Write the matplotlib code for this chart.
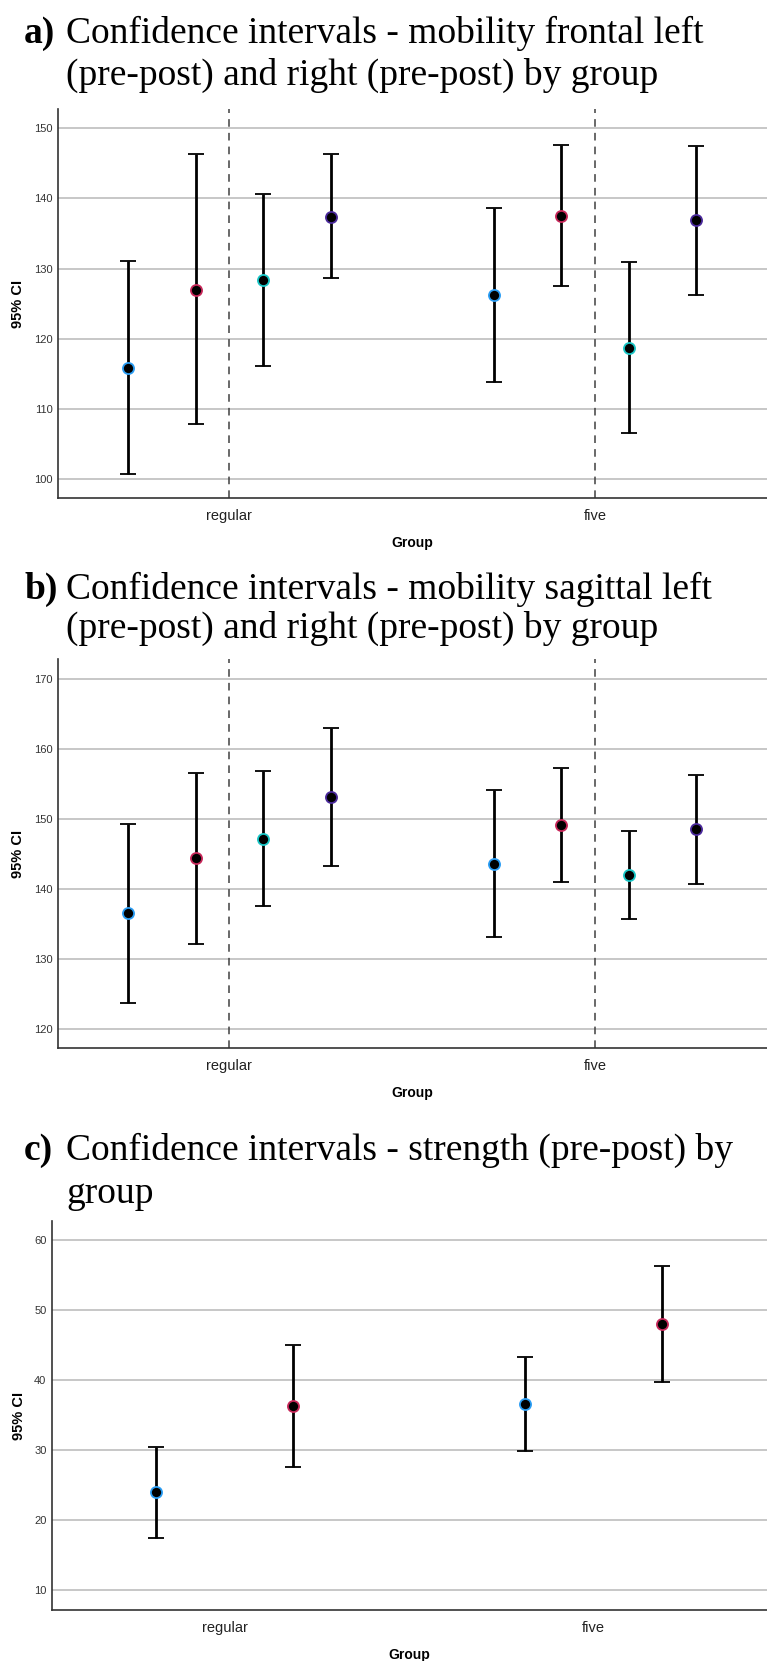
import numpy as np
import matplotlib
matplotlib.use("Agg")
import matplotlib.pyplot as plt

# Datos (medias y limites del IC 95%)
groups = ["regular", "five"]

# a) movilidad frontal: izq pre, izq post, der pre, der post
frontal_mean = np.array([[115.9, 127.0, 128.4, 137.4],
                         [126.3, 137.5, 118.7, 136.9]])
frontal_low = np.array([[100.7, 107.8, 116.1, 128.6],
                        [113.9, 127.5, 106.5, 126.3]])
frontal_high = np.array([[131.1, 146.4, 140.7, 146.3],
                         [138.7, 147.6, 130.9, 147.5]])

# b) movilidad sagital
sagittal_mean = np.array([[136.5, 144.4, 147.1, 153.1],
                          [143.6, 149.1, 142.0, 148.5]])
sagittal_low = np.array([[123.7, 132.2, 137.5, 143.3],
                         [133.1, 141.0, 135.7, 140.7]])
sagittal_high = np.array([[149.3, 156.6, 156.8, 163.0],
                          [154.1, 157.2, 148.3, 156.3]])

# c) fuerza: pre, post
strength_mean = np.array([[24.0, 36.3], [36.6, 48.1]])
strength_low = np.array([[17.5, 27.6], [29.9, 39.8]])
strength_high = np.array([[30.5, 45.1], [43.4, 56.4]])

edge4 = ["#2a9df4", "#c8285a", "#19c6c6", "#4b2a9c"]
edge2 = ["#2a9df4", "#c8285a"]

W, H = 767, 1661
fig = plt.figure(figsize=(W / 100, H / 100), dpi=100)

SANS = "Liberation Sans"
SERIF = "Liberation Serif"


def px_axes(left, top, right, bottom):
    return fig.add_axes([left / W, 1 - bottom / H, (right - left) / W, (bottom - top) / H])


def titulo(letra, linea1, linea2, y1, y2):
    fig.text(24 / W, 1 - y1 / H, letra, family=SERIF, weight="bold", fontsize=27, va="baseline")
    fig.text(66 / W, 1 - y1 / H, linea1, family=SERIF, fontsize=27, va="baseline")
    fig.text(66 / W, 1 - y2 / H, linea2, family=SERIF, fontsize=27, va="baseline")


def panel(ax, mean, low, high, offsets, colors, ylim, yticks, dashed):
    ax.set_xlim(-0.468, 1.47)
    ax.set_ylim(*ylim)
    ax.set_yticks(yticks)
    ax.grid(axis="y", color="#bdbdbd", lw=1.2, zorder=0)
    ax.set_axisbelow(True)
    if dashed:
        for g in range(len(groups)):
            ax.axvline(g, color="#404040", lw=1.1, ls=(0, (5, 4)), zorder=1)
    for g in range(len(groups)):
        for k, off in enumerate(offsets):
            m = mean[g, k]
            ax.errorbar(g + off, m, yerr=[[m - low[g, k]], [high[g, k] - m]],
                        fmt="o", color="black", ecolor="black", elinewidth=2,
                        capsize=6, capthick=2, ms=8, mfc="black",
                        mec=colors[k], mew=1.3, zorder=3)
    ax.set_xticks(range(len(groups)))
    ax.set_xticklabels(groups, family=SANS, fontsize=10.5, color="#222222")
    for lab in ax.get_yticklabels():
        lab.set_family(SANS)
        lab.set_fontsize(8)
        lab.set_color("#333333")
    ax.tick_params(length=0)
    ax.tick_params(axis="x", pad=8)
    ax.tick_params(axis="y", pad=4)
    for s in ["top", "right"]:
        ax.spines[s].set_visible(False)
    for s in ["left", "bottom"]:
        ax.spines[s].set_color("#333333")
        ax.spines[s].set_linewidth(1.2)
    ax.set_ylabel("95% CI", family=SANS, weight="bold", fontsize=10.5, labelpad=6)
    ax.set_xlabel("Group", family=SANS, weight="bold", fontsize=10, labelpad=9)


titulo("a)", "Confidence intervals - mobility frontal left",
       "(pre-post) and right (pre-post) by group", 43, 85)
ax1 = px_axes(58, 109, 767, 498)
panel(ax1, frontal_mean, frontal_low, frontal_high,
      [-0.277, -0.092, 0.092, 0.277], edge4, (97.3, 152.75),
      [100, 110, 120, 130, 140, 150], True)

titulo("b)", "Confidence intervals - mobility sagittal left",
       "(pre-post) and right (pre-post) by group", 599, 638)
ax2 = px_axes(58, 659, 767, 1048)
panel(ax2, sagittal_mean, sagittal_low, sagittal_high,
      [-0.277, -0.092, 0.092, 0.277], edge4, (117.3, 172.8),
      [120, 130, 140, 150, 160, 170], True)

titulo("c)", "Confidence intervals - strength (pre-post) by",
       "group", 1160, 1203)
ax3 = px_axes(52, 1221, 767, 1610)
panel(ax3, strength_mean, strength_low, strength_high,
      [-0.186, 0.186], edge2, (7.2, 62.76),
      [10, 20, 30, 40, 50, 60], False)

fig.savefig("out.png", dpi=100)
